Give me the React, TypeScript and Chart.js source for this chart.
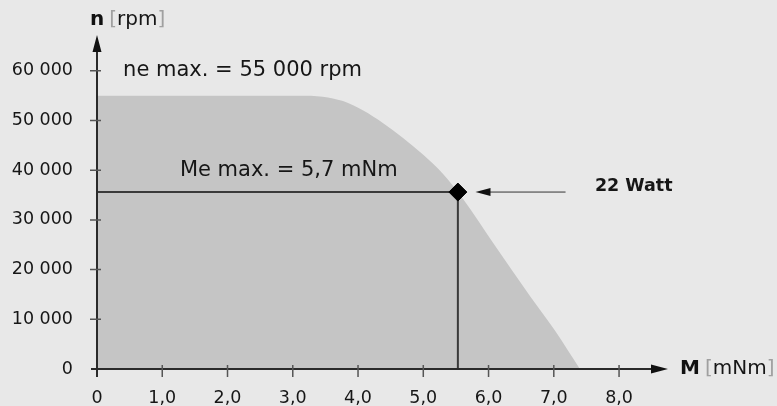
import { useEffect, useRef } from 'react'
import { Chart, registerables } from 'chart.js'

Chart.register(...registerables)

// speed-torque curve, M [mNm] against n [rpm]
const TORQUE = [0, 3.1, 3.46, 3.77, 4.08, 4.38, 4.69, 5.0, 5.3, 5.61, 6.1, 6.64, 7.02, 7.4]
const SPEED = [55000, 55000, 54800, 53900, 52000, 49500, 46500, 43100, 39300, 34200, 24800, 14600, 7700, 0]

// operating point at max power
const OP_TORQUE = 5.53
const OP_SPEED = 35600

const X_TICKS = [0, 1, 2, 3, 4, 5, 6, 7, 8]
const Y_TICKS = [0, 10000, 20000, 30000, 40000, 50000, 60000]

const FONT = '"DejaVu Sans", "Open Sans", sans-serif'
const INK = '#161616'
const AXIS = '#2a2a2a'

function fmtX(v: number): string {
  return v === 0 ? '0' : v.toFixed(1).replace('.', ',')
}

function fmtY(v: number): string {
  return v === 0 ? '0' : Math.round(v).toLocaleString('en-US').replace(/,/g, ' ')
}

const axesPlugin = {
  id: 'arrowAxes',
  afterDatasetsDraw(chart: any) {
    const { ctx, chartArea: a, scales } = chart
    const x = scales.x
    const y = scales.y
    ctx.save()

    // axis lines
    ctx.strokeStyle = AXIS
    ctx.lineWidth = 2
    ctx.beginPath()
    ctx.moveTo(a.left, a.bottom + 8)
    ctx.lineTo(a.left, a.top + 12)
    ctx.moveTo(a.left - 6, a.bottom)
    ctx.lineTo(a.right - 12, a.bottom)
    ctx.stroke()

    // arrow heads
    ctx.fillStyle = '#111'
    ctx.beginPath()
    ctx.moveTo(a.left, a.top)
    ctx.lineTo(a.left - 4.5, a.top + 17)
    ctx.lineTo(a.left + 4.5, a.top + 17)
    ctx.closePath()
    ctx.moveTo(a.right, a.bottom)
    ctx.lineTo(a.right - 17, a.bottom - 4.5)
    ctx.lineTo(a.right - 17, a.bottom + 4.5)
    ctx.closePath()
    ctx.fill()

    // tick marks crossing the axes
    ctx.strokeStyle = '#555'
    ctx.lineWidth = 1.5
    ctx.beginPath()
    Y_TICKS.forEach(v => {
      if (v === 0) return
      const py = y.getPixelForValue(v)
      ctx.moveTo(a.left - 7, py)
      ctx.lineTo(a.left + 4, py)
    })
    X_TICKS.forEach(v => {
      if (v === 0) return
      const px = x.getPixelForValue(v)
      ctx.moveTo(px, a.bottom - 4)
      ctx.lineTo(px, a.bottom + 8)
    })
    ctx.stroke()

    // power arrow pointing at the operating point
    const ay = y.getPixelForValue(OP_SPEED)
    const tip = x.getPixelForValue(5.8)
    const tail = x.getPixelForValue(7.18)
    ctx.strokeStyle = '#333'
    ctx.lineWidth = 1
    ctx.beginPath()
    ctx.moveTo(tail, ay)
    ctx.lineTo(tip + 10, ay)
    ctx.stroke()
    ctx.fillStyle = '#111'
    ctx.beginPath()
    ctx.moveTo(tip, ay)
    ctx.lineTo(tip + 15, ay - 4)
    ctx.lineTo(tip + 15, ay + 4)
    ctx.closePath()
    ctx.fill()

    // annotations
    ctx.textBaseline = 'middle'
    ctx.textAlign = 'left'
    ctx.fillStyle = INK
    ctx.font = `21px ${FONT}`
    ctx.fillText('ne max. = 55 000 rpm', x.getPixelForValue(0.4), y.getPixelForValue(60000))
    ctx.fillText('Me max. = 5,7 mNm', x.getPixelForValue(1.27), y.getPixelForValue(40000))
    ctx.font = `bold 17.5px ${FONT}`
    ctx.fillText('22 Watt', x.getPixelForValue(7.63), y.getPixelForValue(36800))

    // axis titles: bold symbol, grey brackets round the unit
    const title = (sym: string, unit: string, left: number, mid: number) => {
      let cx = left
      ctx.font = `bold 20px ${FONT}`
      ctx.fillStyle = '#111'
      ctx.fillText(sym, cx, mid)
      cx += ctx.measureText(sym).width + 5
      ctx.font = `20px ${FONT}`
      ctx.fillStyle = '#a0a0a0'
      ctx.fillText('[', cx, mid)
      cx += ctx.measureText('[').width
      ctx.fillStyle = INK
      ctx.fillText(unit, cx, mid)
      cx += ctx.measureText(unit).width
      ctx.fillStyle = '#a0a0a0'
      ctx.fillText(']', cx, mid)
    }
    title('n', 'rpm', a.left - 7, 20)
    title('M', 'mNm', a.right + 12, a.bottom)

    ctx.restore()
  },
}

export default function App() {
  const ref = useRef<HTMLCanvasElement>(null)

  useEffect(() => {
    document.body.style.margin = '0'
    document.body.style.background = '#e8e8e8'
    if (!ref.current) return
    const existing = Chart.getChart(ref.current)
    if (existing) existing.destroy()

    const chart = new Chart(ref.current, {
      type: 'line',
      data: {
        datasets: [
          {
            order: 3,
            data: TORQUE.map((m, i) => ({ x: m, y: SPEED[i] })),
            fill: 'origin',
            backgroundColor: '#c5c5c5',
            borderWidth: 0,
            pointRadius: 0,
            cubicInterpolationMode: 'monotone',
          },
          {
            order: 2,
            data: [{ x: 0, y: OP_SPEED }, { x: OP_TORQUE, y: OP_SPEED }, { x: OP_TORQUE, y: 0 }],
            borderColor: '#3a3a3a',
            borderWidth: 2,
            pointRadius: 0,
            fill: false,
          },
          {
            order: 1,
            data: [{ x: OP_TORQUE, y: OP_SPEED }],
            showLine: false,
            pointStyle: 'rectRot',
            pointRadius: 9,
            backgroundColor: '#000',
            borderColor: '#000',
          },
        ],
      },
      options: {
        animation: false,
        responsive: true,
        maintainAspectRatio: false,
        layout: { padding: { left: 0, right: 109, top: 35, bottom: 0 } },
        plugins: { legend: { display: false }, tooltip: { enabled: false } },
        scales: {
          x: {
            type: 'linear',
            min: 0,
            max: 8.75,
            grid: { display: false },
            border: { display: false },
            afterBuildTicks: (s: any) => { s.ticks = X_TICKS.map(v => ({ value: v })) },
            afterFit: (s: any) => { s.height = 37 },
            ticks: {
              padding: 11,
              maxRotation: 0,
              autoSkip: false,
              color: INK,
              font: { family: FONT, size: 17.5 },
              callback: (v: any) => fmtX(Number(v)),
            },
          },
          y: {
            type: 'linear',
            min: 0,
            max: 67200,
            grid: { display: false },
            border: { display: false },
            afterBuildTicks: (s: any) => { s.ticks = Y_TICKS.map(v => ({ value: v })) },
            afterFit: (s: any) => { s.width = 97 },
            ticks: {
              padding: 16,
              autoSkip: false,
              color: INK,
              font: { family: FONT, size: 17.5 },
              callback: (v: any) => fmtY(Number(v)),
            },
          },
        },
      },
      plugins: [axesPlugin],
    })
    return () => chart.destroy()
  }, [])

  return (
    <div style={{ position: 'relative', width: 777, height: 406, background: '#e8e8e8' }}>
      <canvas ref={ref} />
    </div>
  )
}
